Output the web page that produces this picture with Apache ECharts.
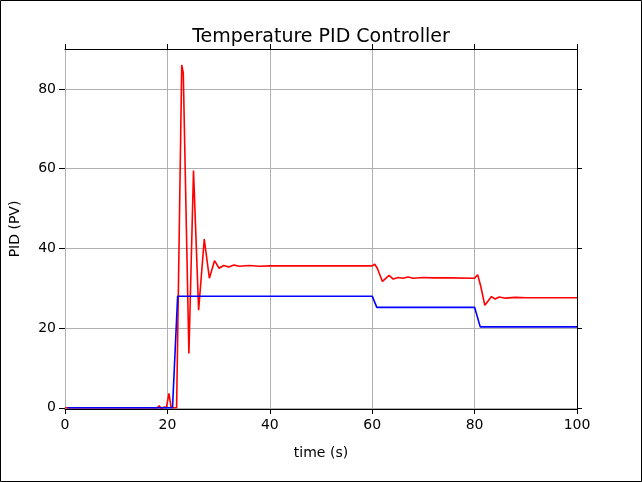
<!DOCTYPE html>
<html>
  <head>
    <meta charset="utf-8">
    <title>Temperature PID Controller</title>
    <script type="text/javascript" src="https://cdn.jsdelivr.net/npm/echarts@6/dist/echarts.min.js"></script>
    <style>
      html, body { margin: 0; padding: 0; background: #fff; }
      #chart { width: 642px; height: 482px; }
    </style>
  </head>
  <body>
    <div id="chart"></div>
    <script type="text/javascript">
      // process value (red)
      var pvTime = [0, 18.0, 18.4, 18.8, 19.4, 19.8, 20.3, 20.7, 21.2, 21.8, 22.8, 23.1, 24.2, 25.1, 26.1, 27.2, 28.2, 29.2, 30.1, 31.0, 32.0, 33.0, 34.0, 36.0, 38.0, 40.0, 45.0, 50.0, 55.0, 60.0, 60.5, 61.0, 62.0, 63.3, 64.1, 65.1, 66.0, 67.0, 68.0, 70.0, 72.0, 75.0, 80.0, 80.6, 81.2, 82.0, 83.3, 84.0, 84.8, 86.0, 88.0, 90.0, 100];
      var pvValue = [0, 0, 0.5, -0.2, 0.2, 0, 3.6, 0.3, 0, 0, 86, 84, 13.6, 59.5, 24.5, 42.3, 32.5, 36.9, 35.0, 35.7, 35.3, 35.8, 35.5, 35.7, 35.5, 35.6, 35.6, 35.6, 35.6, 35.6, 36.0, 35.0, 31.7, 33.2, 32.3, 32.7, 32.5, 32.8, 32.5, 32.7, 32.6, 32.6, 32.5, 33.4, 30.5, 25.7, 27.9, 27.3, 27.8, 27.5, 27.7, 27.6, 27.6];
      // set point (blue)
      var spTime = [0.5, 21.0, 22.0, 60.0, 60.9, 80.0, 81.1, 100];
      var spValue = [0, 0, 28.0, 28.0, 25.2, 25.2, 20.3, 20.3];
      var yTicks = [0, 20, 40, 60, 80];

      function pairs(t, v) {
        return t.map(function (x, i) { return [x, v[i]]; });
      }

      var chart = echarts.init(document.getElementById('chart'));
      var font = 'DejaVu Sans';
      var option = {
        animation: false,
        backgroundColor: '#fff',
        textStyle: { fontFamily: font },
        title: {
          text: 'Temperature PID Controller',
          left: 'center',
          top: 23,
          textStyle: { fontFamily: font, fontSize: 19, fontWeight: 'normal', color: '#000' }
        },
        graphic: [{
          type: 'rect',
          shape: { x: 0.5, y: 0.5, width: 641, height: 481 },
          style: { fill: 'none', stroke: '#000', lineWidth: 1 },
          silent: true
        }],
        grid: { left: 65, right: 65, top: 49, bottom: 73 },
        xAxis: [{
          type: 'value',
          min: 0, max: 100, interval: 20,
          name: 'time (s)',
          nameLocation: 'middle',
          nameGap: 37,
          nameTextStyle: { fontFamily: font, fontSize: 14, color: '#000' },
          axisLine: { show: true, onZero: false, lineStyle: { color: '#000', width: 1 } },
          axisTick: { show: true, length: 5, lineStyle: { color: '#000' } },
          axisLabel: { margin: 9, fontFamily: font, fontSize: 14, color: '#000' },
          splitLine: { show: true, lineStyle: { color: '#b0b0b0', width: 1 } }
        }, {
          type: 'value', position: 'top',
          min: 0, max: 100, interval: 20,
          axisLine: { show: true, onZero: false, lineStyle: { color: '#000', width: 1 } },
          axisTick: { show: true, length: 5, lineStyle: { color: '#000' } },
          axisLabel: { show: false },
          splitLine: { show: false }
        }],
        yAxis: [{
          type: 'value',
          min: -0.3, max: 90,
          name: 'PID (PV)',
          nameLocation: 'middle',
          nameGap: 43,
          nameTextStyle: { fontFamily: font, fontSize: 14, color: '#000' },
          axisLine: { show: true, onZero: false, lineStyle: { color: '#b0b0b0', width: 1 } },
          axisTick: { show: true, length: 6, customValues: yTicks, lineStyle: { color: '#000' } },
          axisLabel: { margin: 9, customValues: yTicks, fontFamily: font, fontSize: 14, color: '#000' },
          splitLine: { show: true, lineStyle: { color: '#b0b0b0', width: 1 } }
        }, {
          type: 'value', position: 'right',
          min: -0.3, max: 90,
          axisLine: { show: true, onZero: false, lineStyle: { color: '#000', width: 1 } },
          axisTick: { show: true, length: 5, customValues: yTicks, lineStyle: { color: '#000' } },
          axisLabel: { show: false },
          splitLine: { show: false }
        }],
        series: [{
          name: 'PV',
          type: 'line',
          data: pairs(pvTime, pvValue),
          showSymbol: false,
          lineStyle: { color: '#ff0000', width: 1.6 },
          itemStyle: { color: '#ff0000' },
          z: 3
        }, {
          name: 'SP',
          type: 'line',
          data: pairs(spTime, spValue),
          showSymbol: false,
          lineStyle: { color: '#0000ff', width: 1.6 },
          itemStyle: { color: '#0000ff' },
          z: 4
        }]
      };
      chart.setOption(option);
    </script>
  </body>
</html>
